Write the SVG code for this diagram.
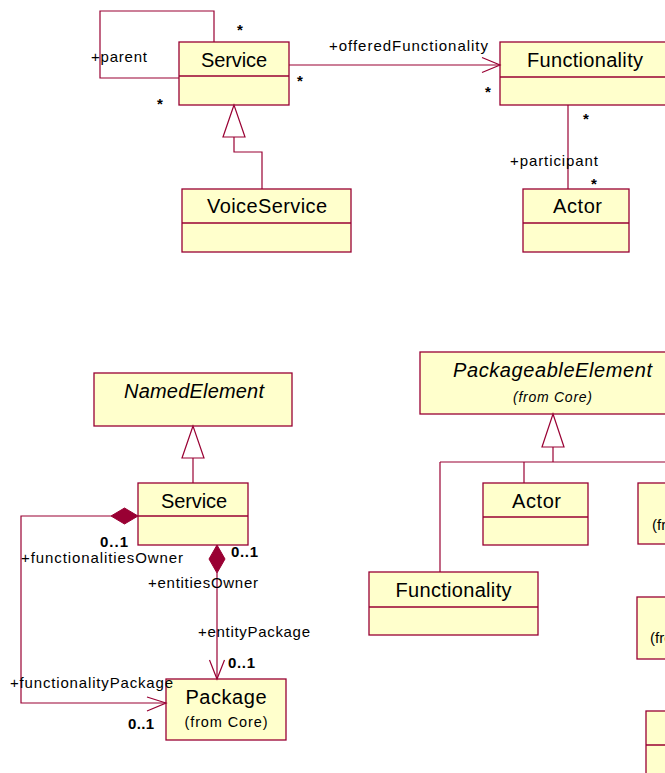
<svg xmlns="http://www.w3.org/2000/svg" width="665" height="773" viewBox="0 0 665 773">
  <defs>
    <style>
      .box { fill: #FFFFCC; stroke: #990033; stroke-width: 1.3; }
      .sep { stroke: #990033; stroke-width: 1.3; fill: none; }
      .ln { stroke: #990033; stroke-width: 1.2; fill: none; }
      .gen { stroke: #990033; stroke-width: 1.2; fill: #FFFFFF; }
      .dia { stroke: #990033; stroke-width: 1; fill: #990033; }
      text { font-family: "Liberation Sans", Arial, sans-serif; fill: #000000; }
      .name { font-size: 20px; text-anchor: middle; }
      .abs { font-size: 20px; font-style: italic; text-anchor: middle; }
      .from { font-size: 14.5px; text-anchor: middle; }
      .fromi { font-size: 14px; font-style: italic; text-anchor: middle; }
      .lbl { font-size: 15px; }
      .mult { font-size: 15px; font-weight: bold; }
    </style>
  </defs>

  <!-- ===== Upper diagram ===== -->
  <g id="service-top">
    <rect class="box" x="179" y="42" width="110" height="63"/>
    <line class="sep" x1="179" y1="76" x2="289" y2="76"/>
    <text class="name" x="234" y="67" textLength="66" lengthAdjust="spacing">Service</text>
  </g>
  <g id="functionality-top">
    <rect class="box" x="500" y="42" width="170" height="63"/>
    <line class="sep" x1="500" y1="77" x2="670" y2="77"/>
    <text class="name" x="585" y="67" textLength="116" lengthAdjust="spacing">Functionality</text>
  </g>
  <g id="voiceservice">
    <rect class="box" x="182" y="189" width="169" height="63"/>
    <line class="sep" x1="182" y1="223" x2="351" y2="223"/>
    <text class="name" x="267" y="213" textLength="120" lengthAdjust="spacing">VoiceService</text>
  </g>
  <g id="actor-top">
    <rect class="box" x="523" y="189" width="106" height="63"/>
    <line class="sep" x1="523" y1="223" x2="629" y2="223"/>
    <text class="name" x="577.5" y="213" textLength="49" lengthAdjust="spacing">Actor</text>
  </g>

  <!-- ===== Lower diagrams ===== -->
  <g id="namedelement">
    <rect class="box" x="94" y="373" width="198" height="53"/>
    <text class="abs" x="194" y="398" textLength="140" lengthAdjust="spacing">NamedElement</text>
  </g>
  <g id="service-bottom">
    <rect class="box" x="138" y="483" width="110" height="62"/>
    <line class="sep" x1="138" y1="516" x2="248" y2="516"/>
    <text class="name" x="194" y="508" textLength="66" lengthAdjust="spacing">Service</text>
  </g>
  <g id="package">
    <rect class="box" x="166" y="679" width="120" height="61"/>
    <text class="name" x="226" y="704" textLength="81" lengthAdjust="spacing">Package</text>
    <text class="from" x="226" y="727" textLength="83" lengthAdjust="spacing">(from Core)</text>
  </g>
  <g id="packageableelement">
    <rect class="box" x="420" y="352" width="266" height="62"/>
    <text class="abs" x="552.5" y="377" textLength="199" lengthAdjust="spacing">PackageableElement</text>
    <text class="fromi" x="552.5" y="402" textLength="79" lengthAdjust="spacing">(from Core)</text>
  </g>
  <g id="actor-bottom">
    <rect class="box" x="483" y="483" width="105" height="62"/>
    <line class="sep" x1="483" y1="517" x2="588" y2="517"/>
    <text class="name" x="536.5" y="508" textLength="49" lengthAdjust="spacing">Actor</text>
  </g>
  <g id="functionality-bottom">
    <rect class="box" x="369" y="572" width="169" height="63"/>
    <line class="sep" x1="369" y1="607" x2="538" y2="607"/>
    <text class="name" x="453.5" y="597" textLength="116" lengthAdjust="spacing">Functionality</text>
  </g>
  <g id="core-element-1">
    <rect class="box" x="638" y="483" width="120" height="61"/>
    <text class="lbl" x="652" y="530" font-size="14">(from Core)</text>
  </g>
  <g id="core-element-2">
    <rect class="box" x="637" y="597" width="120" height="62"/>
    <text class="lbl" x="650" y="643" font-size="14">(from Core)</text>
  </g>
  <g id="core-element-3">
    <rect class="box" x="646" y="711" width="120" height="80"/>
    <line class="sep" x1="646" y1="745" x2="766" y2="745"/>
  </g>

  <!-- ===== Connectors ===== -->
  <g id="connectors">
    <!-- Service self association (parent) -->
    <polyline class="ln" points="214,42 214,11 100,11 100,78 179,78"/>
    <text class="lbl" x="91" y="62" textLength="56" lengthAdjust="spacing">+parent</text>
    <text class="mult" x="237" y="35">*</text>
    <text class="mult" x="157" y="109">*</text>

    <!-- Service -> Functionality (offeredFunctionality) -->
    <line class="ln" x1="289" y1="65" x2="500" y2="65"/>
    <polyline class="ln" points="482,57.5 500,65 482,72.5"/>
    <text class="lbl" x="329" y="51" textLength="159" lengthAdjust="spacing">+offeredFunctionality</text>
    <text class="mult" x="297" y="86">*</text>
    <text class="mult" x="485" y="97">*</text>

    <!-- Functionality - Actor (participant) -->
    <line class="ln" x1="568" y1="105" x2="568" y2="189"/>
    <text class="mult" x="583" y="124">*</text>
    <text class="lbl" x="510" y="166" textLength="88" lengthAdjust="spacing">+participant</text>
    <text class="mult" x="591" y="189">*</text>

    <!-- VoiceService generalizes Service -->
    <polyline class="ln" points="234,137 234,152 262,152 262,189"/>
    <polygon class="gen" points="234,105 223,137 245,137"/>

    <!-- Service generalizes NamedElement -->
    <line class="ln" x1="193" y1="458" x2="193" y2="483"/>
    <polygon class="gen" points="193,426 182,458 204,458"/>

    <!-- Service composition to Package (functionalityPackage) -->
    <polyline class="ln" points="111,516 21,516 21,703 166,703"/>
    <polygon class="dia" points="138,516 124.5,508 111,516 124.5,524"/>
    <polyline class="ln" points="147,697 166,703 147,711"/>
    <text class="mult" x="100" y="547" textLength="28" lengthAdjust="spacing">0..1</text>
    <text class="lbl" x="21" y="563" textLength="162" lengthAdjust="spacing">+functionalitiesOwner</text>
    <text class="lbl" x="10" y="688" textLength="163" lengthAdjust="spacing">+functionalityPackage</text>
    <text class="mult" x="128" y="729" textLength="26" lengthAdjust="spacing">0..1</text>

    <!-- Service composition to Package (entityPackage) -->
    <line class="ln" x1="217" y1="573" x2="217" y2="679"/>
    <polygon class="dia" points="217,545 225,559 217,573 209,559"/>
    <polyline class="ln" points="209.5,660 217,679 224.5,660"/>
    <text class="mult" x="231" y="557" textLength="27" lengthAdjust="spacing">0..1</text>
    <text class="lbl" x="148" y="588" textLength="110" lengthAdjust="spacing">+entitiesOwner</text>
    <text class="lbl" x="198" y="637" textLength="112" lengthAdjust="spacing">+entityPackage</text>
    <text class="mult" x="228" y="668" textLength="27" lengthAdjust="spacing">0..1</text>

    <!-- Generalization tree to PackageableElement -->
    <polygon class="gen" points="553,414 542,447 564,447"/>
    <line class="ln" x1="553" y1="447" x2="553" y2="462"/>
    <line class="ln" x1="440" y1="462" x2="670" y2="462"/>
    <line class="ln" x1="440" y1="462" x2="440" y2="572"/>
    <line class="ln" x1="524" y1="462" x2="524" y2="483"/>
  </g>
</svg>
